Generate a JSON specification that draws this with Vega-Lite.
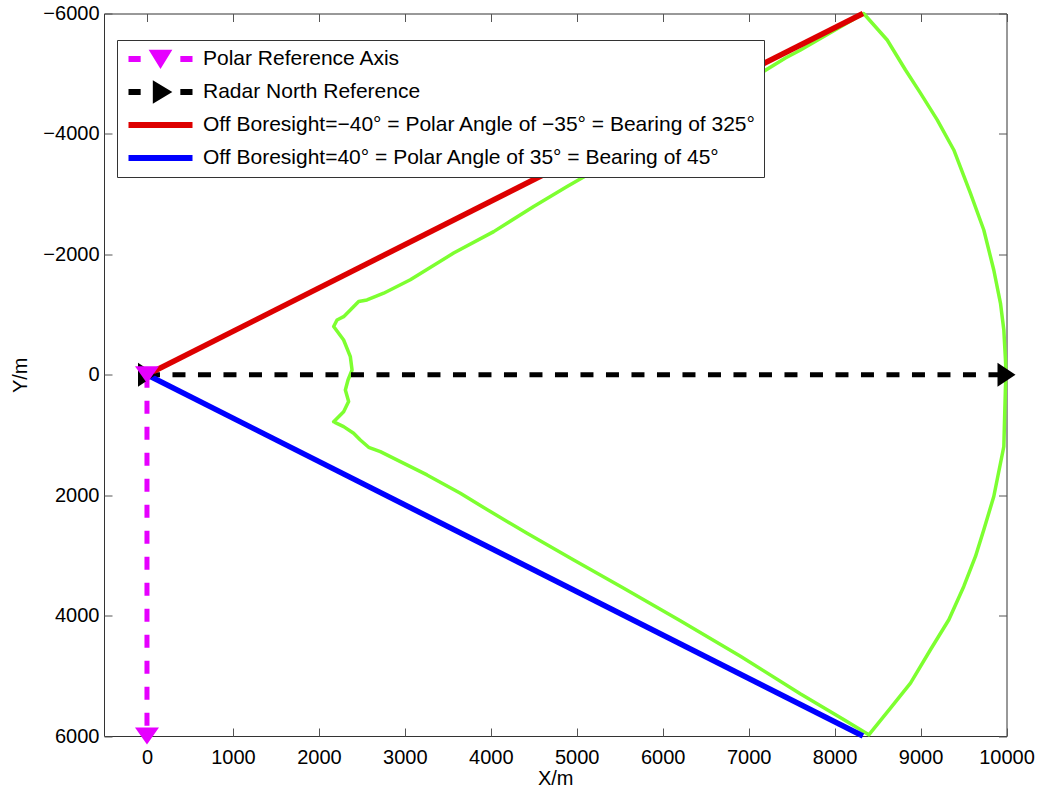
{
  "$schema": "https://vega.github.io/schema/vega-lite/v6.json",
  "width": 902.5,
  "height": 722.5,
  "autosize": {"type": "none"},
  "padding": {"left": 104, "top": 13.5, "right": 35.5, "bottom": 54},
  "background": "white",
  "config": {
    "font": "Liberation Sans",
    "view": {"stroke": "#333333", "strokeWidth": 1},
    "axis": {
      "grid": false,
      "domain": false,
      "tickColor": "#555555",
      "tickWidth": 1,
      "tickSize": -8,
      "labelFontSize": 20,
      "labelColor": "#000000",
      "titleFontSize": 20,
      "titleFontWeight": "normal",
      "titleColor": "#000000",
      "labelOverlap": false,
      "labelFlush": false,
      "labelBound": false
    },
    "legend": {
      "orient": "none",
      "legendX": 13,
      "legendY": 26.5,
      "padding": 7,
      "strokeColor": "#333333",
      "fillColor": "#ffffff",
      "clipHeight": 24,
      "rowPadding": 9,
      "symbolSize": 4096,
      "symbolStrokeWidth": 0,
      "symbolOffset": 4.5,
      "symbolOpacity": 1,
      "labelOffset": 10.5,
      "labelFontSize": 21,
      "labelColor": "#000000",
      "labelLimit": 1000
    }
  },
  "data": {
    "values": [
      {"s": "Polar Reference Axis", "x": 0, "y": 0, "o": 0},
      {"s": "Polar Reference Axis", "x": 0, "y": 6000, "o": 1},
      {"s": "Radar North Reference", "x": 0, "y": 0, "o": 0},
      {"s": "Radar North Reference", "x": 10000, "y": 0, "o": 1},
      {"s": "Off Boresight=−40° = Polar Angle of −35° = Bearing of 325°", "x": 0, "y": 0, "o": 0},
      {"s": "Off Boresight=−40° = Polar Angle of −35° = Bearing of 325°", "x": 8330, "y": -6000, "o": 1},
      {"s": "Off Boresight=40° = Polar Angle of 35° = Bearing of 45°", "x": 0, "y": 0, "o": 0},
      {"s": "Off Boresight=40° = Polar Angle of 35° = Bearing of 45°", "x": 8330, "y": 6000, "o": 1},
      {"s": "Coverage", "x": 2172, "y": 779, "o": 1},
      {"s": "Coverage", "x": 2288, "y": 613, "o": 2},
      {"s": "Coverage", "x": 2346, "y": 443, "o": 3},
      {"s": "Coverage", "x": 2308, "y": 253, "o": 4},
      {"s": "Coverage", "x": 2339, "y": 87, "o": 5},
      {"s": "Coverage", "x": 2386, "y": -79, "o": 6},
      {"s": "Coverage", "x": 2366, "y": -300, "o": 7},
      {"s": "Coverage", "x": 2288, "y": -577, "o": 8},
      {"s": "Coverage", "x": 2172, "y": -802, "o": 9},
      {"s": "Coverage", "x": 2211, "y": -910, "o": 10},
      {"s": "Coverage", "x": 2288, "y": -965, "o": 11},
      {"s": "Coverage", "x": 2366, "y": -1076, "o": 12},
      {"s": "Coverage", "x": 2463, "y": -1217, "o": 13},
      {"s": "Coverage", "x": 2560, "y": -1243, "o": 14},
      {"s": "Coverage", "x": 2754, "y": -1354, "o": 15},
      {"s": "Coverage", "x": 3064, "y": -1577, "o": 16},
      {"s": "Coverage", "x": 3568, "y": -2021, "o": 17},
      {"s": "Coverage", "x": 4034, "y": -2377, "o": 18},
      {"s": "Coverage", "x": 4499, "y": -2795, "o": 19},
      {"s": "Coverage", "x": 4888, "y": -3125, "o": 20},
      {"s": "Coverage", "x": 5121, "y": -3318, "o": 21},
      {"s": "Coverage", "x": 5600, "y": -3720, "o": 22},
      {"s": "Coverage", "x": 6000, "y": -4040, "o": 23},
      {"s": "Coverage", "x": 6700, "y": -4625, "o": 24},
      {"s": "Coverage", "x": 7428, "y": -5261, "o": 25},
      {"s": "Coverage", "x": 7604, "y": -5394, "o": 26},
      {"s": "Coverage", "x": 7950, "y": -5680, "o": 27},
      {"s": "Coverage", "x": 8338, "y": -6000, "o": 28},
      {"s": "Coverage", "x": 8612, "y": -5560, "o": 29},
      {"s": "Coverage", "x": 8825, "y": -5062, "o": 30},
      {"s": "Coverage", "x": 8999, "y": -4678, "o": 31},
      {"s": "Coverage", "x": 9194, "y": -4232, "o": 32},
      {"s": "Coverage", "x": 9387, "y": -3733, "o": 33},
      {"s": "Coverage", "x": 9581, "y": -3013, "o": 34},
      {"s": "Coverage", "x": 9736, "y": -2404, "o": 35},
      {"s": "Coverage", "x": 9852, "y": -1740, "o": 36},
      {"s": "Coverage", "x": 9930, "y": -1186, "o": 37},
      {"s": "Coverage", "x": 9969, "y": -743, "o": 38},
      {"s": "Coverage", "x": 9988, "y": -245, "o": 39},
      {"s": "Coverage", "x": 9994, "y": 0, "o": 40},
      {"s": "Coverage", "x": 9988, "y": 194, "o": 41},
      {"s": "Coverage", "x": 9969, "y": 1192, "o": 42},
      {"s": "Coverage", "x": 9852, "y": 2022, "o": 43},
      {"s": "Coverage", "x": 9736, "y": 2575, "o": 44},
      {"s": "Coverage", "x": 9639, "y": 3018, "o": 45},
      {"s": "Coverage", "x": 9503, "y": 3516, "o": 46},
      {"s": "Coverage", "x": 9329, "y": 4069, "o": 47},
      {"s": "Coverage", "x": 9115, "y": 4568, "o": 48},
      {"s": "Coverage", "x": 8883, "y": 5122, "o": 49},
      {"s": "Coverage", "x": 8650, "y": 5537, "o": 50},
      {"s": "Coverage", "x": 8398, "y": 5981, "o": 51},
      {"s": "Coverage", "x": 8100, "y": 5720, "o": 52},
      {"s": "Coverage", "x": 7600, "y": 5300, "o": 53},
      {"s": "Coverage", "x": 6900, "y": 4670, "o": 54},
      {"s": "Coverage", "x": 6200, "y": 4080, "o": 55},
      {"s": "Coverage", "x": 5547, "y": 3546, "o": 56},
      {"s": "Coverage", "x": 4965, "y": 3076, "o": 57},
      {"s": "Coverage", "x": 4422, "y": 2633, "o": 58},
      {"s": "Coverage", "x": 3995, "y": 2273, "o": 59},
      {"s": "Coverage", "x": 3646, "y": 1968, "o": 60},
      {"s": "Coverage", "x": 3258, "y": 1664, "o": 61},
      {"s": "Coverage", "x": 2948, "y": 1443, "o": 62},
      {"s": "Coverage", "x": 2715, "y": 1277, "o": 63},
      {"s": "Coverage", "x": 2579, "y": 1205, "o": 64},
      {"s": "Coverage", "x": 2482, "y": 1083, "o": 65},
      {"s": "Coverage", "x": 2404, "y": 972, "o": 66},
      {"s": "Coverage", "x": 2288, "y": 861, "o": 67},
      {"s": "Coverage", "x": 2191, "y": 795, "o": 68}
    ]
  },
  "resolve": {"axis": {"x": "independent", "y": "independent"}},
  "layer": [
    {
      "transform": [{"filter": {"field": "s", "equal": "Coverage"}}],
      "mark": {"type": "line", "color": "#7dff30", "strokeWidth": 3.5, "strokeJoin": "round", "strokeCap": "round"},
      "encoding": {
        "x": {
          "field": "x", "type": "quantitative",
          "scale": {"domain": [-500, 10000], "nice": false, "zero": false},
          "axis": {"orient": "bottom", "values": [0, 1000, 2000, 3000, 4000, 5000, 6000, 7000, 8000, 9000, 10000], "format": "d", "title": "X/m", "labelPadding": 19, "titlePadding": 1}
        },
        "y": {
          "field": "y", "type": "quantitative",
          "scale": {"domain": [-6000, 6000], "nice": false, "zero": false, "reverse": true},
          "axis": {"orient": "left", "values": [-6000, -4000, -2000, 0, 2000, 4000, 6000], "format": "d", "title": "Y/m", "labelPadding": 13, "titlePadding": 12}
        },
        "order": {"field": "o", "type": "quantitative"}
      }
    },
    {
      "transform": [{"filter": {"field": "s", "equal": "Polar Reference Axis"}}],
      "mark": {"type": "line", "color": "#e600ff", "strokeWidth": 5, "strokeDash": [13, 13]},
      "encoding": {
        "x": {"field": "x", "type": "quantitative", "axis": null},
        "y": {"field": "y", "type": "quantitative", "axis": null},
        "order": {"field": "o", "type": "quantitative"}
      }
    },
    {
      "transform": [{"filter": {"field": "s", "equal": "Radar North Reference"}}],
      "mark": {"type": "line", "color": "#000000", "strokeWidth": 5, "strokeDash": [13, 12.5]},
      "encoding": {
        "x": {"field": "x", "type": "quantitative", "axis": null},
        "y": {"field": "y", "type": "quantitative", "axis": null},
        "order": {"field": "o", "type": "quantitative"}
      }
    },
    {
      "transform": [{"filter": {"field": "s", "equal": "Off Boresight=−40° = Polar Angle of −35° = Bearing of 325°"}}],
      "mark": {"type": "line", "color": "#dd0000", "strokeWidth": 5.5},
      "encoding": {
        "x": {"field": "x", "type": "quantitative", "axis": {"orient": "top", "values": [0, 1000, 2000, 3000, 4000, 5000, 6000, 7000, 8000, 9000, 10000], "labels": false, "title": null}},
        "y": {"field": "y", "type": "quantitative", "axis": {"orient": "right", "values": [-6000, -4000, -2000, 0, 2000, 4000, 6000], "labels": false, "title": null}},
        "order": {"field": "o", "type": "quantitative"}
      }
    },
    {
      "transform": [{"filter": {"field": "s", "equal": "Off Boresight=40° = Polar Angle of 35° = Bearing of 45°"}}],
      "mark": {"type": "line", "color": "#0000ff", "strokeWidth": 5.5},
      "encoding": {
        "x": {"field": "x", "type": "quantitative", "axis": null},
        "y": {"field": "y", "type": "quantitative", "axis": null},
        "order": {"field": "o", "type": "quantitative"}
      }
    },
    {
      "transform": [{"filter": {"field": "s", "equal": "Radar North Reference"}}],
      "mark": {"type": "point", "filled": true, "opacity": 1, "color": "#000000", "size": 576, "shape": "M-0.75,-1L0.75,0L-0.75,1Z"},
      "encoding": {
        "x": {"field": "x", "type": "quantitative", "axis": null},
        "y": {"field": "y", "type": "quantitative", "axis": null}
      }
    },
    {
      "transform": [{"filter": {"field": "s", "equal": "Polar Reference Axis"}}],
      "mark": {"type": "point", "filled": true, "opacity": 1, "color": "#e600ff", "size": 576, "shape": "M-1,-0.7H1L0,0.7Z"},
      "encoding": {
        "x": {"field": "x", "type": "quantitative", "axis": null},
        "y": {"field": "y", "type": "quantitative", "axis": null}
      }
    },
    {
      "transform": [{"filter": {"not": {"field": "s", "equal": "Coverage"}}}],
      "mark": {"type": "point", "filled": true, "opacity": 0, "size": 4096},
      "encoding": {
        "x": {"field": "x", "type": "quantitative", "axis": null},
        "y": {"field": "y", "type": "quantitative", "axis": null},
        "color": {
          "field": "s", "type": "nominal",
          "scale": {
            "domain": ["Polar Reference Axis", "Radar North Reference", "Off Boresight=−40° = Polar Angle of −35° = Bearing of 325°", "Off Boresight=40° = Polar Angle of 35° = Bearing of 45°"],
            "range": ["#e600ff", "#000000", "#dd0000", "#0000ff"]
          },
          "legend": {"title": null}
        },
        "shape": {
          "field": "s", "type": "nominal",
          "scale": {
            "domain": ["Polar Reference Axis", "Radar North Reference", "Off Boresight=−40° = Polar Angle of −35° = Bearing of 325°", "Off Boresight=40° = Polar Angle of 35° = Bearing of 45°"],
            "range": [
              "M-1,-0.09H-0.62V0.09H-1Z M-0.37,-0.29H0.37L0,0.31Z M0.62,-0.09H1V0.09H0.62Z",
              "M-1,-0.09H-0.62V0.09H-1Z M-0.24,-0.37L0.37,0L-0.24,0.37Z M0.62,-0.09H1V0.09H0.62Z",
              "M-1,-0.09H1V0.09H-1Z",
              "M-1,-0.09H1V0.09H-1Z"
            ]
          },
          "legend": {"title": null}
        }
      }
    }
  ]
}
